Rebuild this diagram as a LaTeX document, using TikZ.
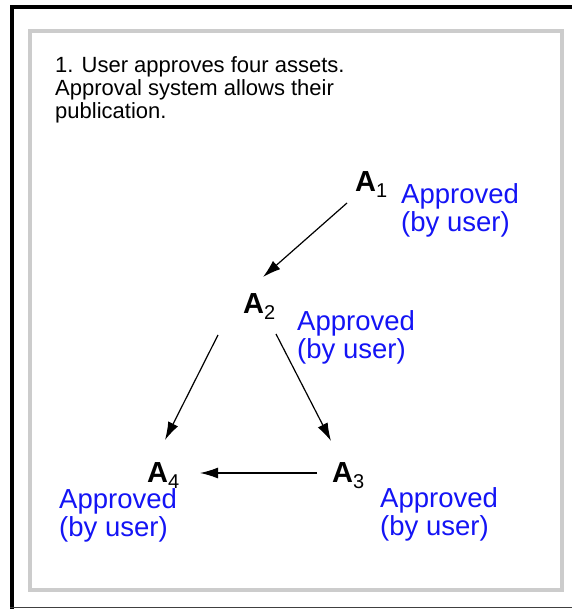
\documentclass[tikz,border=0pt]{standalone}
\usepackage{fontspec}
\setmainfont{Liberation Sans}
\usetikzlibrary{arrows.meta}
\definecolor{lblblue}{RGB}{20,20,245}
\definecolor{boxgray}{RGB}{204,204,204}
\tikzset{
  asset/.style={anchor=base west, inner sep=0pt, font=\fontsize{29}{30}\selectfont\bfseries},
  note/.style={anchor=north west, inner sep=0pt, align=left, text=lblblue, font=\fontsize{27.5}{28.5}\selectfont},
  title/.style={anchor=north west, inner sep=0pt, align=left, font=\fontsize{22}{23}\selectfont},
  arr/.style={line width=1.2pt, -{Latex[length=18pt,width=11pt]}},
}
\newcommand{\asub}[1]{\raisebox{-6pt}{\fontsize{20}{20}\selectfont\mdseries #1}}
\begin{document}
\begin{tikzpicture}[x=1pt,y=-1pt]
\useasboundingbox (0,0) rectangle (572,609);
\fill[white] (0,0) rectangle (572,609);
% outer frame
\draw[line width=4pt] (12,609) -- (12,7) -- (572,7);
\draw[line width=1.5pt, black!75] (10,607.5) -- (572,607.5);
% inner gray box
\draw[line width=3.5pt, boxgray] (30,31) rectangle (562,590);
% title
\node[title] (ttl) at (55,56) {1. User approves four assets.\\Approval system allows their\\publication.};
% assets
\node[asset] (a1) at (355,192) {A\asub{1}};
\node[asset] (a2) at (243,313) {A\asub{2}};
\node[asset] (a3) at (332,482) {A\asub{3}};
\node[asset] (a4) at (147,482) {A\asub{4}};
% labels
\node[note] (n1) at (401,183) {Approved\\(by user)};
\node[note] (n2) at (297,310) {Approved\\(by user)};
\node[note] (n3) at (380,487) {Approved\\(by user)};
\node[note] (n4) at (59,488) {Approved\\(by user)};
% connectors
\draw[arr] ([shift={(-8,11)}]a1.base west) -- ([shift={(20,-36)}]a2.base west);
\draw[arr] ([shift={(-25,22)}]a2.base west) -- ([shift={(18,-42)}]a4.base west);
\draw[arr] ([shift={(33,21)}]a2.base west) -- ([shift={(-1,-41)}]a3.base west);
\draw[arr] ([shift={(-15,-9)}]a3.base west) -- ([shift={(53,-9)}]a4.base west);
\end{tikzpicture}
\end{document}
